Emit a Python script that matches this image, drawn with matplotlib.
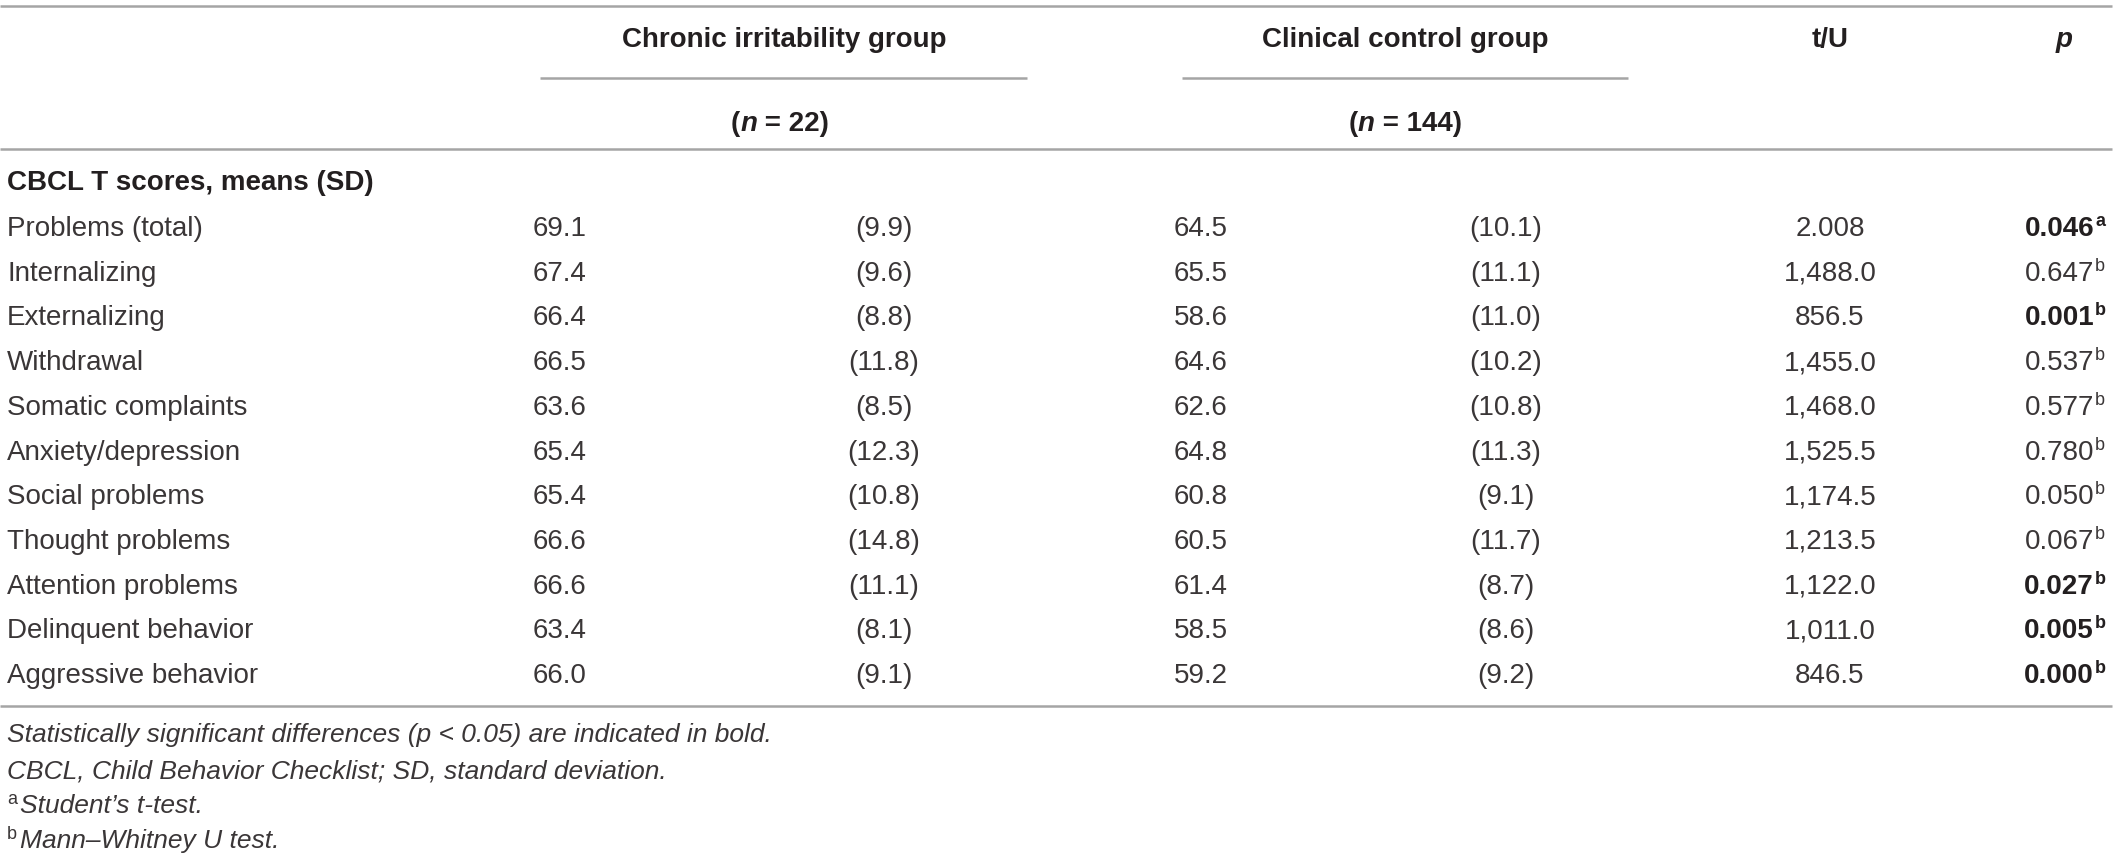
import matplotlib
matplotlib.use("Agg")
import matplotlib.pyplot as plt

# Tabellendaten
zeilen = ["Problems (total)", "Internalizing", "Externalizing", "Withdrawal",
          "Somatic complaints", "Anxiety/depression", "Social problems",
          "Thought problems", "Attention problems", "Delinquent behavior",
          "Aggressive behavior"]
ci_mittel = [69.1, 67.4, 66.4, 66.5, 63.6, 65.4, 65.4, 66.6, 66.6, 63.4, 66.0]
ci_sd = [9.9, 9.6, 8.8, 11.8, 8.5, 12.3, 10.8, 14.8, 11.1, 8.1, 9.1]
cc_mittel = [64.5, 65.5, 58.6, 64.6, 62.6, 64.8, 60.8, 60.5, 61.4, 58.5, 59.2]
cc_sd = [10.1, 11.1, 11.0, 10.2, 10.8, 11.3, 9.1, 11.7, 8.7, 8.6, 9.2]
tu_werte = ["2.008", "1,488.0", "856.5", "1,455.0", "1,468.0", "1,525.5",
            "1,174.5", "1,213.5", "1,122.0", "1,011.0", "846.5"]
p_werte = [0.046, 0.647, 0.001, 0.537, 0.577, 0.780, 0.050, 0.067, 0.027, 0.005, 0.000]
p_hoch = ["a", "b", "b", "b", "b", "b", "b", "b", "b", "b", "b"]
signifikant = [True, False, True, False, False, False, False, False, True, True, True]

gruppen = ["Chronic irritability group", "Clinical control group"]
gruppen_n = ["22", "144"]
fussnoten = [("", "Statistically significant differences (p < 0.05) are indicated in bold."),
             ("", "CBCL, Child Behavior Checklist; SD, standard deviation."),
             ("a", "Student\u2019s t-test."),
             ("b", "Mann\u2013Whitney U test.")]

plt.rcParams['font.family'] = ['Liberation Sans', 'DejaVu Sans']
farbe = '#231f20'   # fett
farbe_n = '#3a3637'  # normaler Text (Original ist eine dünne Schrift)
linie = '#a5a5a5'
gr = 20

W, H = 2118, 864
fig = plt.figure(figsize=(W / 100, H / 100), dpi=100)
ax = fig.add_axes([0, 0, 1, 1])
ax.set_xlim(0, W)
ax.set_ylim(H, 0)
ax.axis('off')
renderer = fig.canvas.get_renderer()


def teile_zeichnen(x, y, teile, ha='center'):
    # mehrere Textstücke nebeneinander setzen
    objs = [ax.text(0, y, t, va='baseline', color=farbe, fontsize=gr, **st) for t, st in teile]
    breiten = [o.get_window_extent(renderer=renderer).width for o in objs]
    start = x - sum(breiten) / 2 if ha == 'center' else x
    for o, b in zip(objs, breiten):
        o.set_x(start)
        start += b


# Linien
ax.hlines([5.5, 149, 706], 0, 2112, color=linie, lw=1.8)
ax.hlines([78, 78], [540, 1182], [1027, 1628], color=linie, lw=1.8)

# Kopfzeile
kopf = dict(va='baseline', fontsize=gr, fontweight='bold', color=farbe)
ax.text(784, 47, gruppen[0], ha='center', **kopf)
ax.text(1405, 47, gruppen[1], ha='center', **kopf)
ax.text(1830, 47, "t/U", ha='center', **kopf)
ax.text(2064, 47, "p", ha='center', style='italic', **kopf)
for xc, n in zip([780, 1405], gruppen_n):
    teile_zeichnen(xc, 131, [("(", dict(fontweight='bold')),
                             ("n", dict(fontweight='bold', style='italic')),
                             (" = " + n + ")", dict(fontweight='bold'))])

ax.text(7, 190, "CBCL T scores, means (SD)", ha='left', **kopf)

# Zeilen
norm = dict(va='baseline', fontsize=gr, color=farbe_n)
for i, name in enumerate(zeilen):
    y = 236 + i * 44.7
    ax.text(7, y, name, ha='left', **norm)
    ax.text(533, y, f"{ci_mittel[i]:.1f}", ha='left', **norm)
    ax.text(884, y, f"({ci_sd[i]:.1f})", ha='center', **norm)
    ax.text(1174, y, f"{cc_mittel[i]:.1f}", ha='left', **norm)
    ax.text(1506, y, f"({cc_sd[i]:.1f})", ha='center', **norm)
    ax.text(1830, y, tu_werte[i], ha='center', **norm)
    if signifikant[i]:
        st = dict(va='baseline', fontweight='bold', color=farbe)
    else:
        st = dict(va='baseline', fontweight='normal', color=farbe_n)
    ax.text(2094, y, f"{p_werte[i]:.3f}", ha='right', fontsize=gr, **st)
    ax.text(2095, y - 10, p_hoch[i], ha='left', fontsize=13, **st)

# Fußnoten
for j, (hoch, text) in enumerate(fussnoten):
    y = [742, 778, 813, 848][j]
    x0 = 7
    if hoch:
        ax.text(x0, y - 9, hoch, ha='left', va='baseline', fontsize=13, color=farbe_n)
        x0 = 20
    ax.text(x0, y, text, ha='left', va='baseline', fontsize=19, style='italic', color=farbe_n)

fig.savefig("out.png", dpi=100)
